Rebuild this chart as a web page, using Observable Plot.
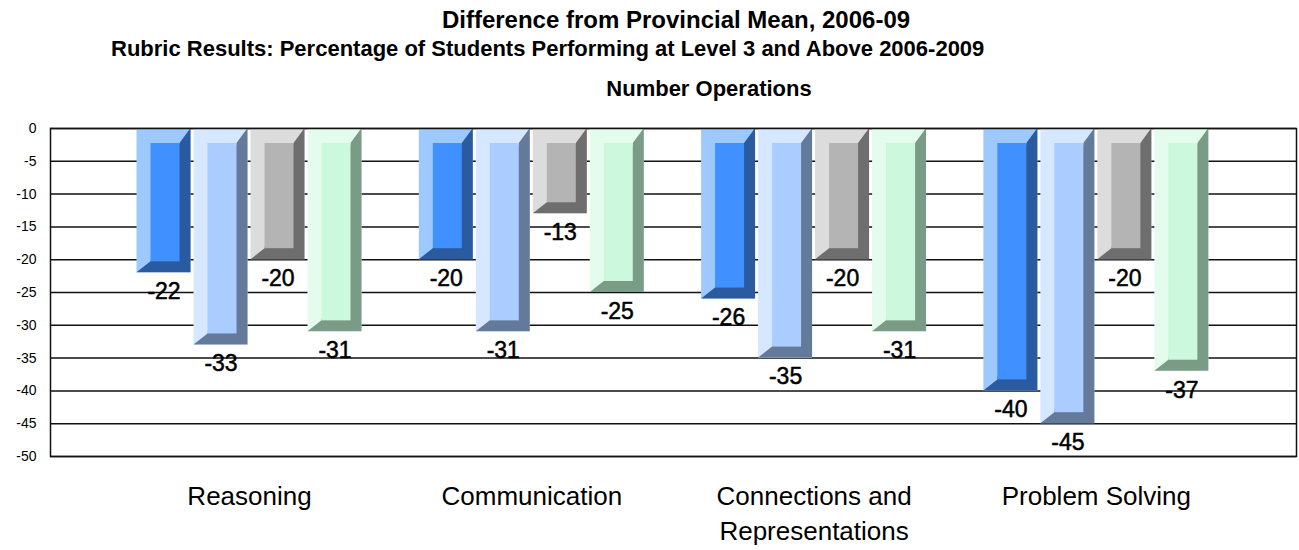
<!DOCTYPE html>
<html>
<head>
<meta charset="utf-8">
<script src="https://cdn.jsdelivr.net/npm/d3@7"></script>
<script src="https://cdn.jsdelivr.net/npm/@observablehq/plot@0.6"></script>
<style>
  html, body { margin: 0; padding: 0; background: #fff; }
  body { width: 1299px; height: 550px; overflow: hidden; font-family: "Liberation Sans", Arial, sans-serif; color: #000; }
  #head { position: relative; width: 1299px; height: 110px; }
  #head div { position: absolute; white-space: nowrap; font-weight: bold; line-height: 1; }
  #t1 { font-size: 24px; left: 676px; top: 8px; transform: translateX(-50%); }
  #t2 { font-size: 22px; left: 111px; top: 38px; }
  #t3 { font-size: 22px; left: 709px; top: 78px; transform: translateX(-50%); }
  #chart svg { display: block; }
</style>
</head>
<body>
<div id="head">
  <div id="t1">Difference from Provincial Mean, 2006-09</div>
  <div id="t2">Rubric Results: Percentage of Students Performing at Level 3 and Above 2006-2009</div>
  <div id="t3">Number Operations</div>
</div>
<div id="chart"></div>
<script>
// ---- data ----
const categories = ["Reasoning", "Communication", "Connections and\nRepresentations", "Problem Solving"];
const seriesNames = ["Series 1", "Series 2", "Series 3", "Series 4"];
const series1 = [-22, -20, -26, -40];
const series2 = [-33, -31, -35, -45];
const series3 = [-20, -13, -20, -20];
const series4 = [-31, -25, -31, -37];
const yTicks = [0, -5, -10, -15, -20, -25, -30, -35, -40, -45, -50];

// ---- styles ----
const lightColors = ["#9ec9ff", "#d6e8ff", "#dcdcdc", "#e4fcee"];
const faceColors  = ["#4090ff", "#aaccff", "#b4b4b4", "#ccf8de"];
const darkColors  = ["#2a5ba0", "#647a9b", "#6e6e6e", "#7a9b86"];

const W = 1299, H = 440, mL = 50, mR = 3, mT = 18, mB = 94;
const xDomain = [-0.705, 3.709];
const yDomain = [-50, 0];
const pxPerX = (W - mL - mR) / (xDomain[1] - xDomain[0]);
const pxPerY = (H - mT - mB) / (yDomain[1] - yDomain[0]);
const barPitch = 57 / pxPerX, barWidth = 54 / pxPerX;
const bevL = 14 / pxPerX, bevR = 11 / pxPerX, bevT = 15 / pxPerY, bevB = 11 / pxPerY;

const allSeries = [series1, series2, series3, series4];
const rows = [];
categories.forEach((cat, g) => {
  allSeries.forEach((vals, j) => {
    const xc = g + (j - 1.5) * barPitch;
    rows.push({id: `${g}-${j}`, cat, series: seriesNames[j], g, j, value: vals[g],
               xc, xL: xc - barWidth / 2, xR: xc + barWidth / 2});
  });
});
// dark side/bottom polygon of each bevelled bar
const poly = rows.flatMap(d => [
  {id: d.id, j: d.j, x: d.xL, y1: d.value, y2: d.value},
  {id: d.id, j: d.j, x: d.xL + bevL, y1: d.value, y2: d.value + bevB},
  {id: d.id, j: d.j, x: d.xR - bevR, y1: d.value, y2: -bevT},
  {id: d.id, j: d.j, x: d.xR, y1: d.value, y2: 0}
]);

const chart = Plot.plot({
  width: W, height: H,
  marginLeft: mL, marginRight: mR, marginTop: mT, marginBottom: mB,
  x: {domain: xDomain, axis: null},
  y: {domain: yDomain, axis: null},
  color: {type: "identity"},
  style: {fontFamily: "'Liberation Sans', Arial, sans-serif", color: "#000", background: "#fff"},
  marks: [
    Plot.ruleY(yTicks, {stroke: "#111", strokeWidth: 1.5}),
    Plot.rect(rows, {x1: "xL", x2: "xR", y1: () => 0, y2: "value", fill: d => lightColors[d.j]}),
    Plot.areaY(poly, {x: "x", y1: "y1", y2: "y2", z: "id", fill: d => darkColors[d.j], curve: "linear"}),
    Plot.rect(rows, {x1: d => d.xL + bevL, x2: d => d.xR - bevR, y1: () => -bevT, y2: d => d.value + bevB, fill: d => faceColors[d.j]}),
    Plot.frame({stroke: "#111", strokeWidth: 1.5}),
    Plot.axisY(yTicks, {tickSize: 0, tickPadding: 14, fontSize: 14, tickFormat: d => `${d}`}),
    Plot.text(rows, {x: "xc", y: "value", text: d => `${d.value}`, dy: 19, fontSize: 23, lineAnchor: "middle", fill: "#000", stroke: "#000", strokeWidth: 0.5}),
    Plot.text(categories, {x: (d, i) => i, y: () => yDomain[0], text: d => d, lineAnchor: "top", dy: 24, fontSize: 26, lineHeight: 35 / 26, fill: "#000"})
  ]
});
document.getElementById("chart").appendChild(chart);
</script>
</body>
</html>
